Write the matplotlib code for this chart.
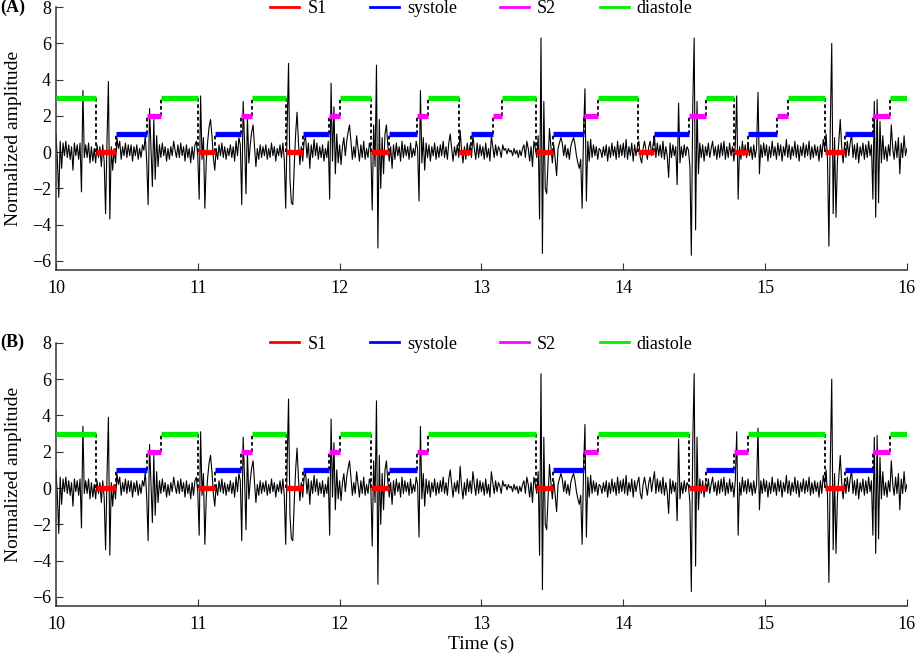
import numpy as np
import matplotlib
matplotlib.use("Agg")
import matplotlib.pyplot as plt
from matplotlib.lines import Line2D

plt.rcParams['font.family'] = ['Liberation Serif', 'DejaVu Serif']

# PCG trace at 10 ms steps from 10.00 s to 16.00 s
sig_start = 10.0
sig_step = 0.01
pcg = [
    # 10.00 - 10.99
    1.0, -0.4, -2.5, 0.6, -0.9, 0.5, -0.2, 0.6, -0.3, 0.4,
    -0.4, 0.3, -1.0, 0.5, -0.2, 0.4, -0.4, 0.5, -2.2, 3.4,
    -0.3, 0.4, -0.3, 0.5, -0.6, 0.3, -0.5, 0.2, -0.6, 0.4,
    -0.3, 0.3, -0.8, 0.4, -0.5, -3.4, 0.6, 3.9, -3.7, 0.3,
    -1.0, 0.2, -0.6, 0.8, 0.2, 0.6, -0.4, 0.3, -0.2, 0.5,
    -0.3, 0.4, -0.2, 0.4, -0.5, 0.3, -0.2, 0.4, -0.4, 0.2,
    -0.3, 0.4, 0.1, 0.9, -0.5, -2.9, 2.4, 0.3, -1.9, 1.8,
    -1.5, 0.9, -0.8, 0.4, -0.3, 0.5, -0.2, 0.3, -0.5, 0.2,
    -0.4, 0.3, -0.2, 0.6, 0.1, -0.3, 0.4, -0.3, 0.5, -0.2,
    0.3, -0.5, 0.4, -0.3, 0.2, -0.6, 0.3, -0.4, 0.4, 0.6,
    # 11.00 - 11.99
    -0.2, -2.6, 3.1, -0.4, 0.8, -3.1, -0.5, 0.6, 1.4, 1.8,
    0.9, -0.3, -1.0, 0.2, -0.4, 0.4, -0.2, 0.5, -0.3, 0.3,
    -0.4, 0.2, -0.2, 0.4, -0.3, 0.3, -0.5, 0.6, -0.2, 0.8,
    0.4, -2.9, 2.8, 0.5, -2.3, 2.0, -0.6, 0.4, 1.1, 1.5,
    0.3, -0.8, 0.2, -0.4, 0.4, -0.3, 0.3, -0.2, 0.4, -0.4,
    0.2, -0.3, 0.5, -0.2, 0.3, -0.5, 0.2, -0.2, 0.4, -0.3,
    0.5, -0.4, -3.1, 1.2, 4.9, -1.5, -2.8, -2.9, -0.8, 1.0,
    2.2, 0.5, -0.7, 0.3, -0.5, 0.6, 0.9, -0.3, 0.5, -0.9,
    0.4, -0.3, 0.7, -0.2, 0.5, -0.4, 0.3, -0.3, 0.4, -0.5,
    0.2, -0.3, 0.6, -2.6, 3.8, -0.5, 2.5, -1.2, 1.0, -0.6,
    # 12.00 - 12.99
    0.4, -0.7, 0.3, 0.8, -0.2, 0.6, 1.1, 1.5, 0.6, -0.4,
    0.3, -0.3, 0.9, 0.2, -0.5, 0.4, -0.3, 0.6, -0.4, 0.2,
    -0.3, 0.5, 0.2, -3.2, 1.5, -0.8, 4.8, -5.3, 1.8, -2.0,
    0.8, -1.2, 1.0, 1.5, 0.4, -0.5, 0.3, -0.9, 0.4, -0.4,
    0.5, -0.2, 0.3, -0.5, 0.6, -0.3, 0.4, -0.2, 0.3, -0.4,
    0.5, -0.3, 0.2, -0.2, 0.6, 0.2, -2.7, 3.4, -0.6, 0.8,
    -1.0, 0.5, -0.3, 0.4, -0.5, 0.3, -0.2, 0.5, -0.4, 0.3,
    -0.3, 0.4, -0.2, 0.6, -0.3, 0.3, -0.4, 0.5, 1.0, 0.2,
    -0.5, 0.3, -0.2, 0.4, -0.3, 1.2, 0.1, -0.6, 0.3, -0.4,
    0.5, -0.2, 0.4, -0.3, 0.9, 0.2, -0.4, 0.5, -0.3, 0.4,
    # 13.00 - 13.99
    -0.2, 0.3, -0.4, 0.5, -0.3, 0.2, -0.5, 0.9, 0.3, -0.3,
    0.4, -0.2, 0.3, 0.1, -0.3, 0.4, 0.1, 0.2, -0.1, 0.2,
    0.0, 0.1, -0.2, 0.2, -0.1, 0.1, -0.3, 0.1, -0.2, 0.2,
    0.4, -0.3, 0.6, 0.2, -0.5, 0.3, -0.8, 0.6, 0.2, -0.3,
    0.9, -3.7, 6.3, -5.6, 2.8, -2.0, -2.3, -0.5, 1.3, 0.3,
    -0.6, 0.4, -0.4, -1.3, 0.2, 0.5, 0.8, 0.5, -0.2, 0.4,
    -0.3, 0.2, -0.4, 0.3, 0.6, 0.8, 0.4, -0.2, -0.6, -0.9,
    -0.4, -3.1, 1.0, 3.5, -2.7, 0.6, -0.5, 0.7, -0.3, 0.4,
    -0.2, 0.3, -0.4, 0.2, 0.1, -0.3, 0.3, -0.2, 0.4, -0.5,
    0.3, -0.3, 0.5, -0.2, 0.3, -0.4, 0.6, -0.3, 0.4, -0.2,
    # 14.00 - 14.99
    0.5, -0.3, 0.7, -0.4, 0.3, -0.2, 0.5, -0.5, 0.4, -0.2,
    0.3, 0.6, -0.3, -0.6, 0.2, 0.6, 0.1, -0.4, 0.3, 0.6,
    -0.2, 0.4, 0.9, -0.3, 0.5, -0.2, 0.4, -0.3, 0.6, -0.4,
    0.3, -0.2, -1.4, 0.5, -0.3, 0.4, -0.2, 0.3, -1.8, 2.7,
    -0.6, 0.3, -0.3, 0.4, -0.2, 0.3, 0.1, -0.8, -5.7, 2.5,
    6.3, -4.3, 2.8, -1.2, 0.5, -0.3, 0.4, -0.5, 0.3, -0.2,
    0.5, -0.3, 0.2, 0.6, -0.2, 0.3, -0.4, 0.4, -0.3, 0.5,
    -0.2, 0.6, -0.4, 0.3, -0.3, 0.5, -0.2, 0.3, -0.5, 0.4,
    3.1, -2.6, 0.3, -0.4, 0.6, -0.2, 0.4, -0.3, 0.5, -0.2,
    0.3, -0.4, 0.4, -0.3, 0.2, 3.3, -1.2, 0.4, -0.3, 0.5,
    # 15.00 - 15.99
    -0.2, 0.4, -0.5, 0.3, -0.3, 0.6, -0.2, 0.3, -0.4, 0.5,
    -0.2, 0.4, -0.5, 0.3, -0.2, 0.7, -0.3, 0.4, -0.4, 0.3,
    -0.2, 0.6, -0.3, 0.4, -0.5, 0.3, -0.2, 0.5, -0.3, 0.4,
    -0.2, 0.6, -0.4, 0.3, -0.3, 0.4, -0.2, 0.3, -0.5, 0.4,
    -0.3, 0.7, 0.2, 1.0, -0.4, -5.2, 1.5, 6.0, -3.4, 0.8,
    -3.6, -0.5, 0.6, 1.8, 0.3, -0.6, 0.4, -0.3, 0.6, -0.2,
    0.5, 1.0, -0.3, 0.4, -0.4, 0.5, -0.6, 0.3, -0.2, 0.5,
    -0.4, 0.4, -0.3, 0.6, -0.2, 0.4, -2.6, 2.8, -3.6, 2.9,
    -2.8, 1.7, -0.6, 0.9, -0.4, 0.3, -0.5, 0.4, -0.2, 1.5,
    0.2, -0.4, 0.6, -0.3, 0.8, -1.2, 0.5, -0.3, 0.9, -0.2,
    # 16.00
    0.2,
]

# segmentation: start time of each state, last entry is the end of the record
bounds_a = [10.0, 10.282, 10.421, 10.642, 10.743, 11.001, 11.123, 11.302, 11.380,
            11.619, 11.739, 11.922, 12.000, 12.223, 12.345, 12.543, 12.620, 12.841,
            12.924, 13.083, 13.142, 13.382, 13.502, 13.723, 13.821, 14.101, 14.219,
            14.461, 14.583, 14.780, 14.877, 15.083, 15.163, 15.422, 15.563, 15.763,
            15.880, 16.0]
states_a = ['diastole', 'S1', 'systole', 'S2'] * 9 + ['diastole']

bounds_b = [10.0, 10.282, 10.421, 10.642, 10.743, 11.001, 11.123, 11.302, 11.380,
            11.619, 11.739, 11.922, 12.000, 12.223, 12.345, 12.543, 12.620, 13.382,
            13.502, 13.723, 13.821, 14.461, 14.583, 14.780, 14.882, 15.422, 15.563,
            15.763, 15.880, 16.0]
states_b = ['diastole', 'S1', 'systole', 'S2'] * 7 + ['diastole']

state_names = ['S1', 'systole', 'S2', 'diastole']
state_level = {'S1': 0, 'systole': 1, 'S2': 2, 'diastole': 3}
state_color = {'S1': '#ff0000', 'systole': '#0000ff', 'S2': '#ff00ff', 'diastole': '#00ee00'}

t = sig_start + np.arange(len(pcg)) * sig_step


def draw_panel(ax, bounds, states, tag):
    ax.plot(t, pcg, color='black', lw=0.8, zorder=2)
    for i, st in enumerate(states):
        ax.hlines(state_level[st], bounds[i], bounds[i + 1],
                  color=state_color[st], lw=3.8, zorder=4)
        if i > 0:
            prev = state_level[states[i - 1]]
            ax.vlines(bounds[i], prev, state_level[st], color='black',
                      lw=1.3, linestyles=(0, (2, 1.5)), zorder=3)
    ax.set_xlim(10, 16)
    ax.set_ylim(-6.5, 8)
    ax.set_yticks([-6, -4, -2, 0, 2, 4, 6, 8])
    ax.set_xticks([10, 11, 12, 13, 14, 15, 16])
    ax.spines['top'].set_visible(False)
    ax.spines['right'].set_visible(False)
    for s in ['left', 'bottom']:
        ax.spines[s].set_color('#333333')
        ax.spines[s].set_linewidth(1.1)
    ax.tick_params(direction='in', length=5, labelsize=13, color='#333333')
    ax.tick_params(axis='x', pad=7)
    ax.set_ylabel('Normalized amplitude', fontsize=14)
    ax.yaxis.set_label_coords(-0.04, 0.5)
    handles = [Line2D([], [], color=state_color[n], lw=2) for n in state_names]
    ax.legend(handles, state_names, loc='center', bbox_to_anchor=(0.5, 0.995),
              ncol=4, frameon=False, fontsize=13, handlelength=1.6,
              handletextpad=0.45, columnspacing=2.4, borderpad=0)
    ax.text(-0.065, 1.0, tag, transform=ax.transAxes, fontsize=13,
            fontweight='bold', ha='left', va='center')


fig = plt.figure(figsize=(9.17, 6.58), dpi=100)
ax_a = fig.add_axes([0.061, 0.590, 0.928, 0.399])
ax_b = fig.add_axes([0.061, 0.079, 0.928, 0.400])

draw_panel(ax_a, bounds_a, states_a, '(A)')
draw_panel(ax_b, bounds_b, states_b, '(B)')
ax_b.set_xlabel('Time (s)', fontsize=14, labelpad=2)

fig.savefig('out.png', dpi=100)
